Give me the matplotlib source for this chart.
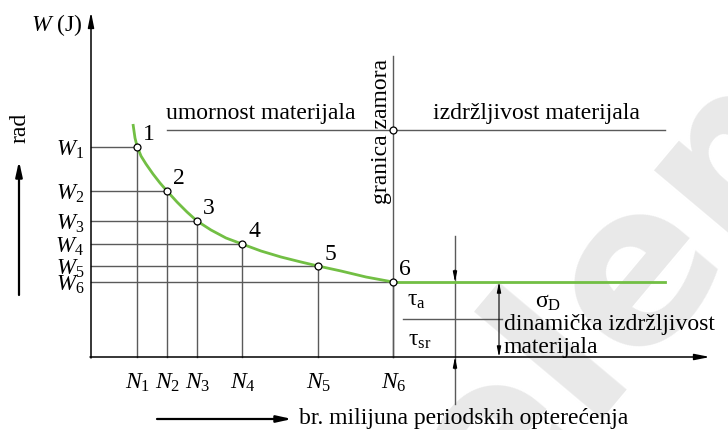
import numpy as np
import matplotlib
matplotlib.use("Agg")
import matplotlib.pyplot as plt

plt.rcParams["font.family"] = ["Liberation Serif", "DejaVu Serif"]
plt.rcParams["mathtext.fontset"] = "custom"
plt.rcParams["mathtext.rm"] = "Liberation Serif"
plt.rcParams["mathtext.it"] = "Liberation Serif:italic"

# chart units: origin at the axis crossing, y up
N = [46, 76, 106, 151, 227, 302]          # N1..N6
W = [210, 166, 136, 113, 91, 75]          # W1..W6
point_labels = ["1", "2", "3", "4", "5", "6"]
N_labels = [r"$N_{%d}$" % (i + 1) for i in range(6)]
W_labels = [r"$W_{%d}$" % (i + 1) for i in range(6)]

# points
curve_x = [42, 43, 44, 46, 50, 55, 62, 69, 76, 86, 96, 106, 120, 135, 151,
           170, 190, 210, 227, 250, 275, 302]
curve_y = [233, 226, 219, 211, 201, 193, 183, 174, 166, 155, 145, 136, 127,
           119, 113, 106, 100, 95, 91, 86, 80, 75]
endurance_end = 574
limit_W = 227        # level of the granica zamora marker
limit_top = 301

GREEN = "#72bf44"
GRID = "#5a5a5a"
FS = 17

fig = plt.figure(figsize=(7.28, 4.31), dpi=100)
ax = fig.add_axes([0, 0, 1, 1])
ax.set_xlim(-91, 637)
ax.set_ylim(-73, 358)
ax.axis("off")

# watermark
ax.text(548, 88, "elem", rotation=50, fontsize=158, color="#e9e9e9",
        family="DejaVu Sans", fontweight="bold", ha="center", va="center",
        zorder=0)

# axes with arrows
ax.annotate("", xy=(0, 345), xytext=(0, -1),
            arrowprops=dict(arrowstyle="-|>,head_length=0.9,head_width=0.18",
                            color="black", lw=1.1, shrinkA=0, shrinkB=0))
ax.annotate("", xy=(619, 0), xytext=(-1, 0),
            arrowprops=dict(arrowstyle="-|>,head_length=0.9,head_width=0.18",
                            color="black", lw=1.1, shrinkA=0, shrinkB=0))

# helper lines
for n, w in zip(N, W):
    ax.plot([0, n], [w, w], color=GRID, lw=1.0, zorder=2)
    ax.plot([n, n], [0, w], color=GRID, lw=1.0, zorder=2)
ax.plot([N[5], N[5]], [0, limit_top], color=GRID, lw=1.0, zorder=2)
ax.plot([N[0] + 30, endurance_end], [limit_W, limit_W], color=GRID, lw=1.0, zorder=2)

# green curve
ax.plot(curve_x, curve_y, color=GREEN, lw=2.0, zorder=3, solid_capstyle="butt")
ax.plot([N[5], endurance_end], [W[5], W[5]], color=GREEN, lw=2.0, zorder=3)

# markers
ax.plot(N, W, "o", ms=5, mfc="white", mec="black", mew=0.9, zorder=4)
ax.plot([N[5]], [limit_W], "o", ms=5, mfc="white", mec="black", mew=0.9, zorder=4)

for n, w, lab in zip(N, W, point_labels):
    ax.text(n + 12, w + 13, lab, fontsize=FS, ha="center", va="center")
for n, lab in zip(N, N_labels):
    ax.text(n + 1, -25, lab, fontsize=FS, ha="center", va="center")
for w, lab in zip(W, W_labels):
    ax.text(-7, w - 2, lab, fontsize=FS - 0.5, ha="right", va="center")

ax.text(-60, 333, r"$W$ (J)", fontsize=FS, ha="left", va="center")
ax.text(-71, 230, "rad", fontsize=FS, rotation=90, ha="center", va="center")
ax.annotate("", xy=(-72, 196), xytext=(-72, 62),
            arrowprops=dict(arrowstyle="-|>,head_length=0.9,head_width=0.2",
                            color="black", lw=1.6, shrinkA=0, shrinkB=0))
ax.annotate("", xy=(201, -62), xytext=(66, -62),
            arrowprops=dict(arrowstyle="-|>,head_length=0.9,head_width=0.2",
                            color="black", lw=1.6, shrinkA=0, shrinkB=0))
ax.text(208, -61, "br. milijuna periodskih opterećenja", fontsize=FS,
        ha="left", va="center")

ax.text(170, 244, "umornost materijala", fontsize=FS, ha="center", va="center")
ax.text(445, 245, "izdržljivost materijala", fontsize=FS, ha="center", va="center")
ax.text(N[5] - 12, limit_W, "granica zamora", fontsize=FS, rotation=90,
        ha="center", va="center")

# dimension lines on the right
x_dim1 = 364
ax.plot([x_dim1, x_dim1], [-47, 121], color=GRID, lw=1.0)
ax.annotate("", xy=(x_dim1, W[5]), xytext=(x_dim1, W[5] + 12),
            arrowprops=dict(arrowstyle="-|>,head_length=0.6,head_width=0.12",
                            color="black", lw=0.8, shrinkA=0, shrinkB=0))
ax.annotate("", xy=(x_dim1, 0), xytext=(x_dim1, -12),
            arrowprops=dict(arrowstyle="-|>,head_length=0.6,head_width=0.12",
                            color="black", lw=0.8, shrinkA=0, shrinkB=0))
x_dim2 = 408
ax.annotate("", xy=(x_dim2, W[5]), xytext=(x_dim2, 0),
            arrowprops=dict(arrowstyle="<|-|>,head_length=0.6,head_width=0.12",
                            color="black", lw=0.8, shrinkA=0, shrinkB=0))
ax.plot([312, 411], [38, 38], color=GRID, lw=1.0)
ax.text(325, 57, r"$\mathrm{τ_{a}}$", fontsize=FS, ha="center", va="center")
ax.text(329, 17, r"$\mathrm{τ_{sr}}$", fontsize=FS, ha="center", va="center")
ax.text(457, 55, r"$\mathrm{σ_{D}}$", fontsize=FS, ha="center", va="center")
ax.text(413, 33, "dinamička izdržljivost", fontsize=FS, ha="left", va="center")
ax.text(413, 10, "materijala", fontsize=FS, ha="left", va="center")

fig.savefig("out.png", dpi=100)
